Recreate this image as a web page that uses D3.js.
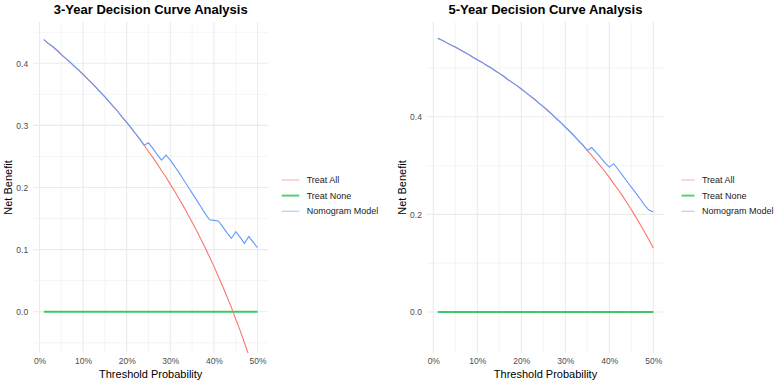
<!DOCTYPE html>
<html>
<head>
<meta charset="utf-8">
<script src="https://cdn.jsdelivr.net/npm/d3@7"></script>
<style>
  body { margin: 0; background: #fff; }
  svg { display: block; font-family: "Liberation Sans", Arial, sans-serif; }
</style>
</head>
<body>
<script>
// Threshold probabilities shared by both panels
const thresholds = [0.01,0.02,0.03,0.04,0.05,0.06,0.07,0.08,0.09,0.10,
  0.11,0.12,0.13,0.14,0.15,0.16,0.17,0.18,0.19,0.20,
  0.21,0.22,0.23,0.24,0.25,0.26,0.27,0.28,0.29,0.30,
  0.31,0.32,0.33,0.34,0.35,0.36,0.37,0.38,0.39,0.40,
  0.41,0.42,0.43,0.44,0.45,0.46,0.47,0.48,0.49,0.50];

// 3-year panel
const treatAll3 = [0.438,0.432,0.427,0.421,0.414,0.408,0.402,0.395,0.389,0.382,
  0.375,0.368,0.361,0.353,0.346,0.338,0.330,0.322,0.313,0.305,
  0.296,0.287,0.278,0.268,0.258,0.248,0.238,0.227,0.217,0.205,
  0.194,0.182,0.170,0.157,0.144,0.131,0.117,0.103,0.088,0.073,
  0.057,0.041,0.024,0.007,-0.012,-0.030,-0.050,-0.070,-0.091,-0.113];
const treatNone3 = [0,0,0,0,0,0,0,0,0,0,0,0,0,0,0,0,0,0,0,0,0,0,0,0,0,
  0,0,0,0,0,0,0,0,0,0,0,0,0,0,0,0,0,0,0,0,0,0,0,0,0];
const model3 = [0.438,0.432,0.427,0.421,0.414,0.408,0.402,0.395,0.389,0.382,
  0.375,0.368,0.361,0.353,0.346,0.338,0.330,0.322,0.313,0.305,
  0.296,0.287,0.278,0.268,0.272,0.263,0.253,0.244,0.252,0.244,
  0.234,0.224,0.213,0.202,0.191,0.180,0.169,0.158,0.148,0.147,
  0.146,0.137,0.127,0.118,0.129,0.120,0.110,0.121,0.112,0.103];

// 5-year panel
const treatAll5 = [0.561,0.557,0.552,0.547,0.543,0.538,0.533,0.528,0.522,0.517,
  0.512,0.506,0.501,0.495,0.489,0.483,0.476,0.470,0.464,0.457,
  0.450,0.443,0.436,0.428,0.421,0.413,0.405,0.396,0.388,0.379,
  0.370,0.361,0.351,0.342,0.331,0.321,0.310,0.299,0.288,0.276,
  0.263,0.251,0.238,0.224,0.210,0.195,0.180,0.164,0.148,0.131];
const treatNone5 = [0,0,0,0,0,0,0,0,0,0,0,0,0,0,0,0,0,0,0,0,0,0,0,0,0,
  0,0,0,0,0,0,0,0,0,0,0,0,0,0,0,0,0,0,0,0,0,0,0,0,0];
const model5 = [0.561,0.557,0.552,0.547,0.543,0.538,0.533,0.528,0.522,0.517,
  0.512,0.506,0.501,0.495,0.489,0.483,0.476,0.470,0.464,0.457,
  0.450,0.443,0.436,0.428,0.421,0.413,0.405,0.396,0.388,0.379,
  0.370,0.361,0.351,0.342,0.331,0.337,0.327,0.317,0.306,0.297,
  0.304,0.292,0.280,0.268,0.256,0.244,0.232,0.219,0.209,0.205];

const seriesNames = ["Treat All", "Treat None", "Nomogram Model"];
const seriesColors = ["#F8766D", "#00BA38", "#619CFF"];
const xTicks = [0, 0.1, 0.2, 0.3, 0.4, 0.5];
const xMinor = [0.05, 0.15, 0.25, 0.35, 0.45];

const W = 777, H = 384;
const svg = d3.select("body").append("svg").attr("width", W).attr("height", H);

function drawPanel(cfg, idx) {
  const { left, right, yDomain, yTicks, yMinor, title, series, legendX, keyW } = cfg;
  const top = 22, bottom = 353;
  const g = svg.append("g");

  // x expands 5% around the data range like ggplot
  const x0 = d3.min(thresholds), x1 = d3.max(thresholds);
  const pad = (x1 - x0) * 0.05;
  const x = d3.scaleLinear().domain([x0 - pad, x1 + pad]).range([left, right]);
  const y = d3.scaleLinear().domain(yDomain).range([bottom, top]);

  const grid = g.append("g").attr("stroke", "#ebebeb").attr("fill", "none");
  grid.selectAll(".vmin").data(xMinor).join("line")
    .attr("x1", d => x(d)).attr("x2", d => x(d)).attr("y1", top).attr("y2", bottom)
    .attr("stroke-width", 0.55);
  grid.selectAll(".hmin").data(yMinor).join("line")
    .attr("y1", d => y(d)).attr("y2", d => y(d)).attr("x1", left).attr("x2", right)
    .attr("stroke-width", 0.55);
  grid.selectAll(".vmaj").data(xTicks).join("line")
    .attr("x1", d => x(d)).attr("x2", d => x(d)).attr("y1", top).attr("y2", bottom)
    .attr("stroke-width", 1.1);
  grid.selectAll(".hmaj").data(yTicks).join("line")
    .attr("y1", d => y(d)).attr("y2", d => y(d)).attr("x1", left).attr("x2", right)
    .attr("stroke-width", 1.1);

  // axes (labels only)
  const xAxis = g.append("g").attr("transform", `translate(0,${bottom})`)
    .call(d3.axisBottom(x).tickValues(xTicks).tickFormat(d3.format(".0%")).tickSize(0).tickPadding(5));
  const yAxis = g.append("g").attr("transform", `translate(${left},0)`)
    .call(d3.axisLeft(y).tickValues(yTicks).tickFormat(d3.format(".1f")).tickSize(0).tickPadding(5));
  [xAxis, yAxis].forEach(a => {
    a.select(".domain").remove();
    a.selectAll("text").attr("fill", "#4d4d4d").style("font-size", "8.5px")
      .style("font-family", "'Liberation Sans', Arial, sans-serif");
  });

  // lines, clipped to the panel
  const clipId = "clip" + idx;
  g.append("clipPath").attr("id", clipId).append("rect")
    .attr("x", left).attr("y", top).attr("width", right - left).attr("height", bottom - top);
  const line = d3.line().x((d, i) => x(thresholds[i])).y(d => y(d));
  const lines = g.append("g").attr("clip-path", `url(#${clipId})`).attr("fill", "none");
  const widths = [1.1, 1.9, 1.1];
  [1, 0, 2].forEach(k => {
    lines.append("path").datum(series[k]).attr("d", line)
      .attr("stroke", seriesColors[k]).attr("stroke-width", widths[k])
      .attr("stroke-opacity", k === 1 ? 0.75 : 1);
  });

  // titles
  g.append("text").attr("x", (left + right) / 2).attr("y", 13.5)
    .attr("text-anchor", "middle").attr("font-size", 13).attr("font-weight", "bold")
    .text(title);
  g.append("text").attr("x", (left + right) / 2).attr("y", 378)
    .attr("text-anchor", "middle").attr("font-size", 11).text("Threshold Probability");
  g.append("text")
    .attr("transform", `translate(${cfg.yTitleX},${(top + bottom) / 2}) rotate(-90)`)
    .attr("text-anchor", "middle").attr("font-size", 11).text("Net Benefit");

  // legend
  const lg = g.append("g");
  seriesNames.forEach((name, k) => {
    const ly = 180 + k * 15.6;
    lg.append("line").attr("x1", legendX).attr("x2", legendX + keyW)
      .attr("y1", ly).attr("y2", ly).attr("stroke", seriesColors[k])
      .attr("stroke-width", k === 1 ? 1.9 : 1).attr("stroke-opacity", k === 1 ? 0.7 : 0.6);
    lg.append("text").attr("x", legendX + keyW + 7.4).attr("y", ly + 3.2)
      .attr("font-size", 9).attr("fill", "#1a1a1a").text(name);
  });
}

drawPanel({
  left: 33.2, right: 268.2,
  yDomain: [-0.0665, 0.4665],
  yTicks: [0, 0.1, 0.2, 0.3, 0.4],
  yMinor: [-0.05, 0.05, 0.15, 0.25, 0.35, 0.45],
  title: "3-Year Decision Curve Analysis",
  series: [treatAll3, treatNone3, model3],
  legendX: 281.7, keyW: 17.6, yTitleX: 12
}, 0);

drawPanel({
  left: 426.9, right: 664.1,
  yDomain: [-0.084, 0.5943],
  yTicks: [0, 0.2, 0.4],
  yMinor: [0.1, 0.3, 0.5],
  title: "5-Year Decision Curve Analysis",
  series: [treatAll5, treatNone5, model5],
  legendX: 681.5, keyW: 13, yTitleX: 406
}, 1);
</script>
</body>
</html>
